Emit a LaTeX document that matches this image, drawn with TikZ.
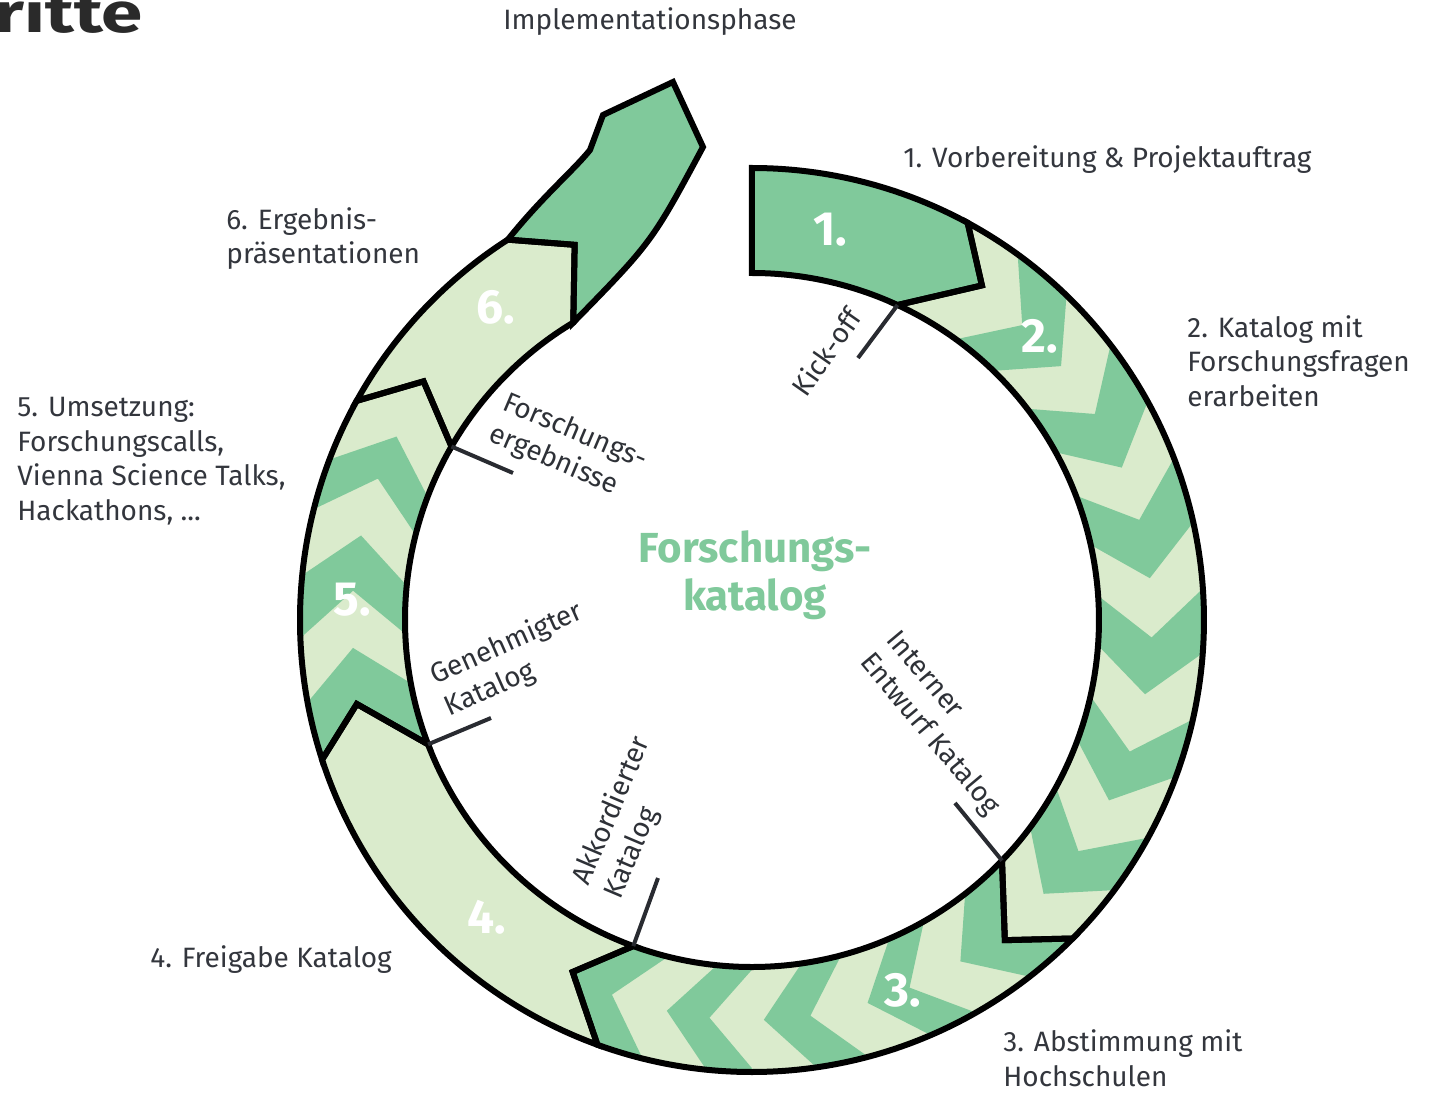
\documentclass[tikz,border=0pt]{standalone}
\usepackage{fontspec}
\setmainfont{Fira Sans}
\usepackage{graphicx}
\definecolor{dkg}{HTML}{80C99B}
\definecolor{ltg}{HTML}{DAEBCC}
\definecolor{txt}{HTML}{33363D}
\definecolor{ttl}{HTML}{2A2A2A}
\newcommand\chevstripe[2]{\fill[dkg] ({#1+6.5}:492) -- ({#1+6.5}:452) -- (#1:400) -- ({#1+6.5}:347) -- ({#1+6.5}:307) -- ({#2+6.5}:307) -- ({#2+6.5}:347) -- (#2:400) -- ({#2+6.5}:452) -- ({#2+6.5}:492) -- cycle;}
\newcommand\segone{(90:452) arc[start angle=90,end angle=61.5,radius=452] -- (55.5:406) -- (65.2:347) arc[start angle=65.2,end angle=90,radius=347] -- cycle}
\newcommand\segtwo{(61.5:452) arc[start angle=61.5,end angle=-44.8,radius=452] -- (-51.7:408) -- (-43.9:347) arc[start angle=-43.9,end angle=65.2,radius=347] -- (55.5:406) -- cycle}
\newcommand\segthree{(-44.8:452) arc[start angle=-44.8,end angle=-110,radius=452] -- (-117:395) -- (-110:347) arc[start angle=-110,end angle=-43.9,radius=347] -- (-51.7:408) -- cycle}
\newcommand\segfour{(-110:452) arc[start angle=-110,end angle=-162,radius=452] -- (-168:404) -- (-159:347) arc[start angle=-159,end angle=-110,radius=347] -- (-117:395) -- cycle}
\newcommand\segfive{(-162:452) arc[start angle=-162,end angle=-209,radius=452] -- (-216:406) -- (-210:347) arc[start angle=-210,end angle=-159,radius=347] -- (-168:404) -- cycle}
\newcommand\segsix{(-209:452) arc[start angle=-209,end angle=-237.3,radius=452] -- (-244.7:415) -- (-239:347) arc[start angle=-239,end angle=-210,radius=347] -- (-216:406) -- cycle}
\newcommand\segseven{(-237.3:452) .. controls (-210,423) and (-178,450) .. (-162,470) -- (-149,505) -- (-79,538) -- (-49,473) .. controls (-100,378) .. (-239:347) -- (-244.7:415) -- cycle}
\begin{document}
\begin{tikzpicture}[x=0.5pt,y=0.5pt,
  outline/.style={draw=black,line width=3pt,line join=miter,miter limit=6},
  tick/.style={draw=txt!80!black,line width=2pt},
  lbl/.style={font=\fontsize{14}{17.25}\selectfont,text=txt,inner sep=0pt,align=left},
  inlbl/.style={font=\fontsize{14}{17.25}\selectfont,text=txt!90!black,inner sep=0pt,align=left},
  num/.style={font=\fontsize{24}{24}\selectfont\bfseries,text=white,inner sep=0pt}]
\useasboundingbox (-752,-473) rectangle (680,620);
% plain segments
\fill[dkg] \segone;
\fill[ltg] \segfour;
\fill[ltg] \segsix;
\fill[dkg] \segseven;
% chevron segments
\begin{scope}
  \fill[ltg] \segtwo;
  \clip \segtwo;
  \foreach \a/\b in {47.5/39.4,31/22.4,14.5/6,-2.5/-10.7,-19.2/-26.8,-35.3/-43.2}{\chevstripe{\a}{\b}}
\end{scope}
\begin{scope}
  \fill[ltg] \segthree;
  \clip \segthree;
  \foreach \a/\b in {-40/-58.6,-66.8/-73.2,-81.6/-88.3,-96.1/-102.3,-110.5/-117}{\chevstripe{\a}{\b}}
\end{scope}
\begin{scope}
  \fill[ltg] \segfive;
  \clip \segfive;
  \foreach \a/\b in {-160/-176,-184.2/-192.2,-200.7/-207.3}{\chevstripe{\a}{\b}}
\end{scope}
% outlines
\path[outline] \segone;
\path[outline] \segtwo;
\path[outline] \segthree;
\path[outline] \segfour;
\path[outline] \segfive;
\path[outline] \segsix;
\path[outline] \segseven;
% segment numbers
\node[num] (n1) at (78,390) {1.};
\node[num] (n2) at (288,284) {2.};
\node[num] (n3) at (151,-370) {3.};
\node[num] (n4) at (-265,-297) {4.};
\node[num] (n5) at (-400,20) {5.};
\node[num] (n6) at (-256,313) {6.};
% ticks
\coordinate (i1) at (65.2:347);  \coordinate (k1) at (106,262);
\coordinate (i2) at (-43.9:347); \coordinate (k2) at (203,-183);
\coordinate (i3) at (-110:347);  \coordinate (k3) at (-94,-258);
\coordinate (i4) at (-159:347);  \coordinate (k4) at (-261,-98);
\coordinate (i5) at (-210:347);  \coordinate (k5) at (-239,147);
\draw[tick] (i1) -- (k1);
\draw[tick] (i2) -- (k2);
\draw[tick] (i3) -- (k3);
\draw[tick] (i4) -- (k4);
\draw[tick] (i5) -- (k5);
% inner labels
\node[inlbl,rotate=55] (l1) at (74,268) {Kick-off};
\node[inlbl,rotate=-50] (l2) at (190,-104) {Interner\\Entwurf Katalog};
\node[inlbl,rotate=67] (l3) at (-124,-198) {Akkordierter\\Katalog};
\node[inlbl,rotate=24] (l4) at (-238,-40) {Genehmigter\\Katalog};
\node[inlbl,rotate=-23] (l5) at (-184,172) {Forschungs-\\ergebnisse};
% centre
\node[font=\fontsize{21}{24}\selectfont\bfseries,text=dkg,align=center,inner sep=0pt] (cat) at (3,45) {Forschungs-\\katalog};
% outer labels
\node[lbl,anchor=center,align=center] (impl) at (-102,598) {Implementationsphase};
\node[lbl,anchor=west] (t1) at (151,460) {1. Vorbereitung \& Projektauftrag};
\node[lbl,anchor=west] (t2) at (435,259) {2. Katalog mit\\Forschungsfragen\\erarbeiten};
\node[lbl,anchor=west] (t3) at (251,-438) {3. Abstimmung mit\\Hochschulen};
\node[lbl,anchor=west] (t4) at (-602,-340) {4. Freigabe Katalog};
\node[lbl,anchor=west] (t5) at (-735,159) {5. Umsetzung:\\Forschungscalls,\\Vienna Science Talks,\\Hackathons, ...};
\node[lbl,anchor=west] (t6) at (-526,381.5) {6. Ergebnis-\\präsentationen};
% cropped title
\node[font=\fontsize{28}{28}\selectfont\bfseries,text=ttl,anchor=base west,inner sep=0pt] (title) at (-758,587) {\scalebox{1.33}[1]{ritte}};
\end{tikzpicture}
\end{document}
